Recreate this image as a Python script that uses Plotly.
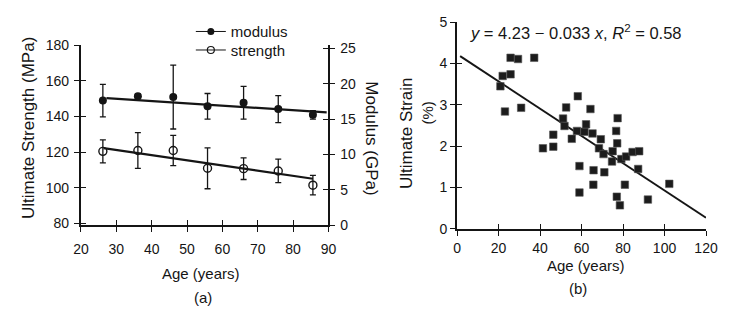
import plotly.graph_objects as go

# ---------------- data: panel (a) ----------------
ages_a = [26.2, 36.1, 46.1, 55.8, 66.0, 75.8, 85.6]
modulus = [17.6, 18.2, 18.1, 16.8, 17.3, 16.4, 15.6]          # GPa (right axis)
modulus_err = [2.3, 0.3, 4.5, 1.8, 2.3, 1.9, 0.6]
strength = [120.4, 120.9, 120.9, 110.9, 110.7, 109.4, 101.4]  # MPa (left axis)
strength_err = [6.5, 10.0, 8.5, 11.5, 6.1, 6.6, 5.5]
mod_fit_age = [27.2, 89.5]
mod_fit_val = [17.94, 15.95]
str_fit_age = [26.4, 85.6]
str_fit_val = [122.2, 105.0]

# ---------------- data: panel (b) ----------------
ages_b = [25.8, 29.4, 37.2, 25.8, 22.0, 20.9, 23.1, 30.9, 41.4, 46.4, 46.4,
          51.1, 51.8, 52.6, 55.3, 58.2, 57.8, 59.0, 59.0, 61.4, 62.2, 64.3,
          65.3, 65.8, 65.7, 69.3, 68.4, 71.0, 70.6, 75.0, 74.7, 76.7, 77.4,
          77.2, 77.0, 78.5, 79.2, 81.5, 84.6, 87.8, 80.9, 87.3, 92.0, 102.3]
strain = [4.14, 4.11, 4.14, 3.74, 3.70, 3.45, 2.84, 2.93, 1.95, 2.28, 1.99,
          2.67, 2.49, 2.94, 2.18, 3.21, 2.37, 1.52, 0.88, 2.35, 2.53, 2.90,
          2.31, 1.42, 1.07, 2.17, 1.95, 1.37, 1.81, 1.88, 1.63, 2.37, 2.68,
          2.07, 0.78, 0.57, 1.69, 1.75, 1.86, 1.88, 1.07, 1.45, 0.71, 1.09]
fit_b_age = [1.5, 120]
intercept_b = 4.23
slope_b = -0.033
fit_b_val = [intercept_b + slope_b * a for a in fit_b_age]

xticks_a = [20, 30, 40, 50, 60, 70, 80, 90]
yticks_left = [80, 100, 120, 140, 160, 180]
yticks_right = [0, 5, 10, 15, 20, 25]
xticks_b = [0, 20, 40, 60, 80, 100, 120]
yticks_b = [0, 1, 2, 3, 4, 5]

# ---------------- layout geometry (pixels -> paper) ----------------
W, H = 729, 316
def fx(px):
    return px / W
def fy(py):
    return 1 - py / H

INK = "#151515"
FONT = "Liberation Sans, Arial, sans-serif"

fig = go.Figure()

# panel (a) traces
fig.add_trace(go.Scatter(x=mod_fit_age, y=mod_fit_val, mode="lines",
                         line=dict(color=INK, width=2.2), xaxis="x", yaxis="y2",
                         showlegend=False))
fig.add_trace(go.Scatter(x=str_fit_age, y=str_fit_val, mode="lines",
                         line=dict(color=INK, width=2.2), xaxis="x", yaxis="y",
                         showlegend=False))
fig.add_trace(go.Scatter(x=ages_a, y=modulus, mode="markers", xaxis="x", yaxis="y2",
                         marker=dict(symbol="circle", size=8, color=INK),
                         error_y=dict(type="data", array=modulus_err, color=INK,
                                      thickness=1.3, width=3),
                         showlegend=False))
fig.add_trace(go.Scatter(x=ages_a, y=strength, mode="markers", xaxis="x", yaxis="y",
                         marker=dict(symbol="circle-open", size=8, color=INK,
                                     line=dict(width=1.4, color=INK)),
                         error_y=dict(type="data", array=strength_err, color=INK,
                                      thickness=1.3, width=3),
                         showlegend=False))
# legend entries (one legend box each, so each row can be placed)
fig.add_trace(go.Scatter(x=[None], y=[None], mode="lines+markers", name="modulus",
                         xaxis="x", yaxis="y", line=dict(color=INK, width=1),
                         marker=dict(symbol="circle", size=7, color=INK),
                         legend="legend"))
fig.add_trace(go.Scatter(x=[None], y=[None], mode="lines+markers", name="strength",
                         xaxis="x", yaxis="y", line=dict(color=INK, width=1),
                         marker=dict(symbol="circle-open", size=7, color=INK,
                                     line=dict(width=1.2, color=INK)),
                         legend="legend2"))

# panel (b) traces
fig.add_trace(go.Scatter(x=fit_b_age, y=fit_b_val, mode="lines", xaxis="x2", yaxis="y3",
                         line=dict(color=INK, width=2), showlegend=False))
fig.add_trace(go.Scatter(x=ages_b, y=strain, mode="markers", xaxis="x2", yaxis="y3",
                         marker=dict(symbol="square", size=7.5, color="#1c1c1c",
                                     line=dict(width=0.6, color="#555")),
                         showlegend=False))

# invisible traces to make overlay tick axes render (crossing ticks)
for xa, ya in [("x3", "y"), ("x", "y5"), ("x", "y6"), ("x4", "y3"), ("x2", "y4")]:
    fig.add_trace(go.Scatter(x=[None], y=[None], xaxis=xa, yaxis=ya,
                             showlegend=False, hoverinfo="skip"))

tickfont = dict(family=FONT, size=14, color=INK)
base = dict(showgrid=False, zeroline=False, linecolor=INK, tickcolor=INK,
            tickfont=tickfont, ticklen=5, tickwidth=1.3)

dom_xa = [fx(75), fx(329.5)]
dom_ya = [fy(229), fy(39.3)]
dom_xb = [fx(461.7), fx(717.7)]
dom_yb = [fy(232.7), fy(15)]

legend_common = dict(xanchor="left", yanchor="middle", bgcolor="rgba(0,0,0,0)",
                     font=dict(family=FONT, size=15, color=INK), itemwidth=30)

fig.update_layout(
    width=W, height=H, autosize=False,
    margin=dict(l=0, r=0, t=0, b=0),
    paper_bgcolor="white", plot_bgcolor="white",
    font=dict(family=FONT, color=INK),
    xaxis=dict(base, domain=dom_xa, range=[20, 90], anchor="y", tickvals=xticks_a,
               ticks="outside", showline=True, linewidth=2, ticklabelstandoff=5),
    xaxis3=dict(base, overlaying="x", range=[20, 90], anchor="y", tickvals=xticks_a,
                ticks="inside", showticklabels=False, showline=False),
    yaxis=dict(base, domain=dom_ya, range=[78.8, 180], anchor="x", tickvals=yticks_left,
               ticks="outside", showline=True, linewidth=2, ticklabelstandoff=2),
    yaxis5=dict(base, overlaying="y", range=[78.8, 180], anchor="x", tickvals=yticks_left,
                ticks="inside", showticklabels=False, showline=False),
    yaxis2=dict(base, overlaying="y", side="right", range=[0, 25.4], anchor="x",
                tickvals=yticks_right, ticks="outside", showline=True, linewidth=2,
                ticklabelstandoff=2),
    yaxis6=dict(base, overlaying="y", side="right", range=[0, 25.4], anchor="x",
                tickvals=yticks_right, ticks="inside", showticklabels=False,
                showline=False),
    xaxis2=dict(base, domain=dom_xb, range=[0, 120], anchor="y3", tickvals=xticks_b,
                ticks="outside", showline=True, linewidth=2, ticklabelstandoff=0),
    xaxis4=dict(base, overlaying="x2", range=[0, 120], anchor="y3", tickvals=xticks_b,
                ticks="inside", showticklabels=False, showline=False),
    yaxis3=dict(base, domain=dom_yb, range=[0, 5], anchor="x2", tickvals=yticks_b,
                ticks="outside", showline=True, linewidth=2),
    yaxis4=dict(base, overlaying="y3", range=[0, 5], anchor="x2", tickvals=yticks_b,
                ticks="inside", showticklabels=False, showline=False),
    legend=dict(legend_common, x=fx(188), y=fy(25)),
    legend2=dict(legend_common, x=fx(188), y=fy(44.5)),
)

def note(text, px, py, size=15, angle=0, xanchor="center"):
    fig.add_annotation(text=text, x=fx(px), y=fy(py), xref="paper", yref="paper",
                       showarrow=False, textangle=angle, xanchor=xanchor,
                       yanchor="middle", borderpad=0,
                       font=dict(family=FONT, size=size, color=INK))

note("Ultimate Strength (MPa)", 21, 126, size=17, angle=-90)
note("Modulus (GPa)", 374, 137, size=17, angle=90)
note("Age (years)", 198, 280, size=15)
note("(a)", 200, 305, size=15)
note("Ultimate Strain", 410, 132, size=17, angle=-90)
note("(%)", 431, 111, size=15, angle=-90)
note("Age (years)", 594, 271, size=15)
note("(b)", 586, 295, size=15)
note("<i>y</i> = 4.23 \u2212 0.033 <i>x</i>, <i>R</i><sup>2</sup> = 0.58", 474, 25,
     size=16.5, xanchor="left")

fig.write_html("out.html", config={"displayModeBar": False},
               post_script="document.body.style.margin='0px';")
